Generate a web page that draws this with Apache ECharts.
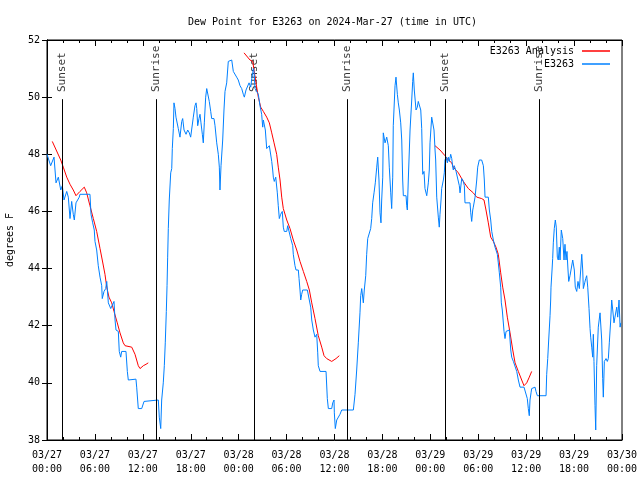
<!DOCTYPE html>
<html><head><meta charset="utf-8">
<script src="https://cdn.jsdelivr.net/npm/echarts@6/dist/echarts.min.js"></script>
<style>html,body{margin:0;padding:0;background:#fff}#c{width:640px;height:480px}</style>
</head><body><div id="c"></div>
<script>
// hours since 2024-03-27 00:00 UTC
const xTickLabels = ['03/27\n00:00','03/27\n06:00','03/27\n12:00','03/27\n18:00','03/28\n00:00','03/28\n06:00','03/28\n12:00','03/28\n18:00','03/29\n00:00','03/29\n06:00','03/29\n12:00','03/29\n18:00','03/30\n00:00'];
const sunTimes = [1.92, 13.69, 25.96, 37.6, 49.88, 61.65];
const sunLabels = ['Sunset','Sunrise','Sunset','Sunrise','Sunset','Sunrise'];
const sunLineTop = 49.93;
const sunLabelAt = 50.18;

const observed = [[0.0,48.0],[0.16,47.95],[0.46,47.6],[0.88,47.9],[1.13,47.0],[1.42,47.2],[1.72,46.75],[1.92,46.9],[2.13,46.4],[2.47,46.7],[2.67,46.5],[2.88,45.75],[3.09,46.35],[3.29,45.9],[3.42,45.7],[3.63,46.3],[4.04,46.5],[4.13,46.6],[5.38,46.6],[5.51,45.9],[5.72,45.6],[5.92,45.35],[6.01,44.95],[6.22,44.65],[6.42,44.1],[6.64,43.7],[6.85,43.4],[6.92,42.95],[7.14,43.2],[7.35,43.3],[7.48,43.55],[7.68,42.8],[7.98,42.6],[8.23,42.55],[8.39,42.85],[8.52,42.2],[8.64,41.85],[8.93,41.8],[9.05,41.1],[9.23,40.9],[9.35,41.1],[9.89,41.1],[10.06,40.4],[10.18,40.1],[11.14,40.13],[11.23,39.85],[11.43,39.1],[11.86,39.1],[12.15,39.35],[12.27,39.4],[13.94,39.4],[14.06,38.8],[14.24,38.4],[14.36,39.4],[14.56,40.0],[14.69,40.6],[14.81,41.4],[14.94,42.5],[15.03,43.4],[15.11,44.4],[15.19,45.4],[15.31,46.4],[15.49,47.35],[15.62,47.5],[15.69,48.2],[15.82,48.9],[15.90,49.8],[16.03,49.6],[16.15,49.3],[16.32,49.25],[16.44,48.9],[16.65,48.6],[16.87,49.15],[16.99,49.25],[17.16,48.85],[17.41,48.7],[17.62,48.85],[17.82,48.75],[17.99,48.6],[18.24,48.6],[18.32,49.3],[18.53,49.7],[18.66,49.8],[18.75,49.6],[18.87,49.0],[19.03,49.25],[19.16,49.4],[19.28,49.1],[19.45,48.7],[19.57,48.4],[19.70,49.1],[19.87,50.0],[20.00,50.3],[20.20,50.25],[20.32,49.85],[20.50,49.5],[20.62,49.25],[20.91,49.25],[21.04,49.0],[21.25,48.4],[21.45,48.0],[21.58,47.55],[21.66,46.75],[21.79,47.6],[22.00,48.5],[22.16,49.55],[22.29,50.2],[22.50,50.5],[22.70,51.25],[23.13,51.3],[23.25,51.3],[23.33,50.9],[23.54,50.85],[23.75,50.7],[23.95,50.6],[24.17,50.4],[24.38,50.3],[24.58,50.1],[24.71,50.0],[24.92,50.25],[25.08,50.3],[25.30,50.5],[25.51,50.35],[25.64,50.65],[25.76,50.85],[25.83,51.0],[25.92,50.9],[26.05,50.3],[26.26,50.35],[26.46,50.1],[26.67,49.7],[26.88,49.4],[27.01,48.95],[27.09,49.2],[27.34,48.85],[27.51,48.2],[27.71,48.15],[27.84,48.3],[28.14,47.75],[28.26,47.45],[28.34,47.2],[28.46,47.05],[28.64,47.2],[28.84,46.65],[28.96,46.2],[29.09,45.75],[29.26,45.9],[29.46,46.0],[29.59,45.45],[29.71,45.3],[30.02,45.3],[30.14,45.5],[30.34,45.45],[30.52,45.05],[30.77,44.8],[30.84,44.5],[31.05,44.1],[31.18,43.95],[31.47,43.95],[31.56,43.65],[31.68,43.25],[31.77,42.9],[31.89,43.1],[32.02,43.25],[32.60,43.25],[32.85,43.2],[33.02,42.65],[33.15,42.2],[33.35,41.85],[33.56,41.6],[33.77,41.7],[33.90,41.05],[33.97,40.6],[34.19,40.4],[34.94,40.4],[35.10,39.45],[35.23,39.1],[35.65,39.1],[35.78,39.3],[35.94,39.4],[35.98,38.95],[36.10,38.4],[36.28,38.7],[36.48,38.75],[36.69,38.9],[36.90,39.05],[38.36,39.05],[38.57,39.6],[38.78,40.45],[38.98,41.4],[39.19,42.45],[39.28,43.05],[39.41,43.3],[39.61,42.8],[39.73,43.25],[39.91,43.75],[40.03,44.5],[40.16,45.05],[40.32,45.0],[40.53,45.4],[40.66,45.75],[40.78,46.3],[40.95,46.65],[41.11,47.0],[41.29,47.55],[41.41,47.9],[41.57,47.1],[41.70,45.95],[41.82,45.6],[41.91,46.4],[42.04,47.2],[42.11,48.75],[42.33,48.4],[42.54,48.6],[42.74,48.3],[42.86,47.55],[43.04,46.65],[43.16,46.1],[43.29,47.2],[43.36,49.0],[43.58,50.4],[43.70,50.7],[43.87,50.1],[43.99,49.8],[44.12,49.55],[44.29,49.1],[44.42,48.5],[44.54,47.1],[44.62,46.55],[44.96,46.55],[45.04,46.2],[45.12,46.05],[45.24,47.1],[45.46,48.85],[45.67,49.9],[45.79,50.55],[45.87,50.85],[45.99,50.25],[46.21,49.55],[46.37,49.65],[46.49,49.85],[46.62,49.9],[46.80,49.55],[46.92,48.9],[47.05,47.3],[47.21,47.4],[47.33,46.8],[47.55,46.55],[47.67,46.55],[47.75,47.0],[47.87,47.45],[47.96,48.4],[48.17,49.3],[48.29,49.3],[48.46,48.85],[48.59,48.15],[48.67,47.8],[48.80,46.5],[49.00,45.8],[49.12,45.45],[49.21,45.9],[49.34,46.4],[49.42,46.8],[49.63,47.1],[49.75,47.35],[49.84,47.8],[49.96,47.9],[50.13,47.7],[50.25,47.9],[50.38,47.75],[50.55,48.0],[50.68,47.85],[50.80,47.55],[50.88,47.45],[51.00,47.6],[51.22,47.4],[51.43,47.45],[51.63,46.9],[51.72,46.65],[51.93,47.15],[52.13,47.05],[52.26,46.9],[52.34,46.3],[52.97,46.3],[53.06,45.95],[53.18,45.65],[53.31,46.05],[53.38,46.15],[53.60,46.5],[53.72,46.55],[53.81,47.1],[53.93,47.55],[54.13,47.8],[54.43,47.8],[54.64,47.6],[54.76,47.1],[54.85,46.5],[55.26,46.5],[55.39,46.05],[55.56,45.7],[55.69,45.3],[55.89,45.0],[56.10,44.75],[56.22,44.65],[56.39,44.5],[56.51,44.2],[56.64,43.85],[56.81,43.35],[56.89,42.8],[57.01,42.55],[57.14,42.55],[57.23,41.8],[57.35,41.55],[57.48,41.8],[57.89,41.85],[58.07,41.15],[58.19,40.9],[58.40,40.75],[58.61,40.7],[58.82,40.4],[59.02,40.1],[59.23,39.85],[59.73,39.85],[59.98,39.8],[60.14,39.45],[60.27,39.1],[60.39,38.85],[60.48,39.4],[60.61,39.65],[60.69,39.8],[60.89,39.85],[61.11,39.85],[61.23,39.7],[61.40,39.55],[62.49,39.55],[62.57,40.3],[62.70,40.85],[62.82,41.5],[62.99,42.35],[63.07,42.9],[63.11,43.35],[63.24,43.95],[63.32,44.35],[63.40,44.9],[63.52,45.4],[63.65,45.7],[63.77,45.45],[63.90,44.4],[64.02,44.3],[64.15,44.75],[64.24,44.3],[64.40,45.35],[64.58,45.05],[64.74,44.3],[64.86,44.85],[64.99,44.3],[65.11,44.6],[65.24,43.95],[65.33,43.55],[65.49,43.75],[65.70,43.75],[65.83,44.3],[65.90,44.35],[66.03,43.95],[66.15,43.35],[66.33,43.2],[66.49,43.55],[66.66,43.3],[66.83,43.95],[66.96,44.5],[67.08,43.95],[67.16,43.3],[67.33,43.5],[67.46,43.65],[67.58,43.75],[67.71,43.35],[67.87,42.6],[68.00,41.9],[68.08,41.6],[68.21,41.25],[68.33,40.9],[68.41,41.7],[68.49,40.75],[68.62,39.2],[68.71,38.35],[68.83,40.6],[69.03,41.95],[69.25,42.45],[69.46,41.5],[69.58,40.15],[69.66,39.5],[69.79,40.75],[70.00,40.85],[70.16,40.75],[70.29,40.85],[70.41,41.4],[70.59,42.2],[70.71,42.9],[70.84,42.55],[71.00,42.1],[71.12,42.3],[71.34,42.65],[71.46,42.3],[71.63,42.9],[71.76,41.95],[71.85,42.1]];

const analysis = [[0.66,48.45],[1.72,47.8],[2.04,47.55],[2.47,47.2],[2.88,46.95],[3.29,46.75],[3.63,46.55],[4.13,46.7],[4.67,46.85],[4.97,46.65],[5.38,46.2],[5.80,45.75],[6.22,45.3],[6.64,44.7],[6.92,44.3],[7.26,43.8],[7.48,43.35],[7.76,43.0],[8.10,42.8],[8.39,42.5],[8.80,42.1],[9.14,41.75],[9.55,41.4],[9.77,41.3],[10.61,41.25],[11.02,41.0],[11.43,40.6],[11.65,40.5],[12.06,40.6],[12.40,40.65],[12.68,40.7],
 [18.0,null],
 [24.67,51.55],[25.42,51.3],[25.76,51.25],[25.92,50.95],[26.17,50.5],[26.46,50.0],[26.76,49.65],[27.09,49.5],[27.51,49.3],[27.84,49.1],[28.14,48.75],[28.43,48.4],[28.76,48.0],[28.96,47.55],[29.18,47.1],[29.39,46.5],[29.59,46.1],[30.02,45.7],[30.43,45.4],[30.84,45.0],[31.27,44.65],[31.68,44.25],[32.10,43.9],[32.52,43.55],[32.85,43.25],[33.15,42.8],[33.56,42.25],[33.97,41.65],[34.40,41.25],[34.69,40.95],[35.02,40.85],[35.65,40.75],[36.19,40.85],[36.60,40.95],
 [42.0,null],
 [48.59,48.3],[49.21,48.15],[49.84,47.95],[50.25,47.8],[50.68,47.7],[50.88,47.55],[51.51,47.35],[52.13,47.05],[52.76,46.8],[53.38,46.65],[53.81,46.5],[54.43,46.45],[54.72,46.4],[54.97,46.05],[55.26,45.6],[55.56,45.1],[55.89,44.95],[56.22,44.75],[56.51,44.5],[56.81,43.85],[57.06,43.35],[57.35,42.9],[57.64,42.3],[57.98,41.75],[58.32,41.15],[58.61,40.7],[59.02,40.4],[59.44,40.1],[59.73,39.9],[60.07,40.0],[60.39,40.2],[60.69,40.4]];

const font = 'DejaVu Sans Mono';
const txt = {fontFamily: font, fontSize: 10, color: '#000'};
const chart = echarts.init(document.getElementById('c'), null, {renderer: 'canvas'});
const legendBase = {orient: 'vertical', align: 'right', right: 30, padding: 0, itemWidth: 28, itemHeight: 1.5, itemGap: 0,
  icon: 'rect', textStyle: Object.assign({padding: [0, 3, 0, 0]}, txt), selectedMode: false};
const mirrorX = {type: 'value', position: 'top', min: 0, max: 72, interval: 6,
  axisLine: {show: true, lineStyle: {color: '#000'}}, axisTick: {inside: true, length: 6, lineStyle: {color: '#000'}},
  minorTick: {show: true, splitNumber: 3, length: 3, lineStyle: {color: '#000'}},
  splitLine: {show: false}, minorSplitLine: {show: false}, axisLabel: {show: false}};
chart.setOption({
  animation: false,
  backgroundColor: '#fff',
  title: {text: 'Dew Point for E3263 on 2024-Mar-27 (time in UTC)', left: 183, top: 12,
    textStyle: {fontFamily: font, fontSize: 10, fontWeight: 'normal', color: '#000'}},
  grid: {left: 47, right: 18, top: 40, bottom: 40, containLabel: false, outerBoundsMode: 'none',
    show: true, borderColor: '#000', borderWidth: 1},
  legend: [
    Object.assign({data: ['E3263 Analysis'], top: 46}, legendBase),
    Object.assign({data: ['E3263'], top: 59}, legendBase)
  ],
  xAxis: [
    {type: 'value', min: 0, max: 72, interval: 6,
     axisLine: {show: true, lineStyle: {color: '#000'}},
     axisTick: {inside: true, length: 6, lineStyle: {color: '#000'}},
     minorTick: {show: true, splitNumber: 3, length: 3, lineStyle: {color: '#000'}},
     splitLine: {show: false}, minorSplitLine: {show: false},
     axisLabel: Object.assign({formatter: v => xTickLabels[Math.round(v / 6)], margin: 8, lineHeight: 14, hideOverlap: false}, txt)},
    mirrorX
  ],
  yAxis: [
    {type: 'value', min: 38, max: 52, interval: 2,
     name: 'degrees F', nameLocation: 'middle', nameGap: 32, nameTextStyle: txt,
     axisLine: {show: true, lineStyle: {color: '#000'}},
     axisTick: {inside: true, length: 5, lineStyle: {color: '#000'}},
     splitLine: {show: false},
     axisLabel: Object.assign({margin: 7}, txt)},
    {type: 'value', position: 'right', min: 38, max: 52, interval: 2,
     axisLine: {show: true, lineStyle: {color: '#000'}},
     axisTick: {inside: true, length: 5, lineStyle: {color: '#000'}},
     splitLine: {show: false}, axisLabel: {show: false}}
  ],
  series: [
    {name: 'sun', type: 'scatter', symbolSize: 1, itemStyle: {color: 'rgba(0,0,0,0)'}, silent: true,
     data: sunTimes.map((t, i) => ({value: [t, sunLabelAt], name: sunLabels[i]})),
     label: {show: true, formatter: p => p.name, position: 'inside', rotate: 90, align: 'left', verticalAlign: 'middle',
       fontFamily: font, fontSize: 11, color: '#000'},
     labelLayout: {hideOverlap: false},
     markLine: {silent: true, symbol: ['none', 'none'], label: {show: false},
       lineStyle: {color: '#000', type: 'solid', width: 1},
       data: sunTimes.map(t => [{coord: [t, 38]}, {coord: [t, sunLineTop]}])}},
    {name: 'E3263 Analysis', type: 'line', data: analysis, symbol: 'none', connectNulls: false,
     lineStyle: {color: '#ff0000', width: 1}, itemStyle: {color: '#ff0000'}},
    {name: 'E3263', type: 'line', data: observed, symbol: 'none',
     lineStyle: {color: '#0080ff', width: 1}, itemStyle: {color: '#0080ff'}}
  ]
});
</script></body></html>
